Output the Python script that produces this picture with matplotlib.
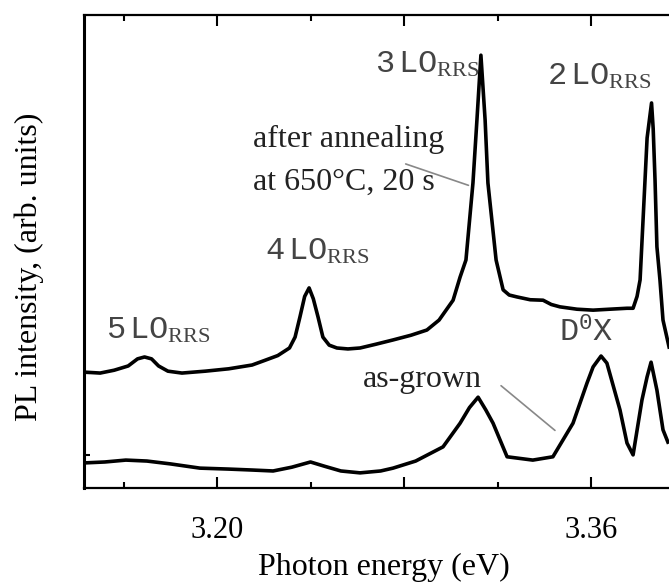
import matplotlib
matplotlib.use("Agg")
import matplotlib.pyplot as plt

# ---- data ----
energy_annealed = [3.1431, 3.1500, 3.1560, 3.1620, 3.1660, 3.1690, 3.1720, 3.1750, 3.1790, 3.1850,
                   3.1950, 3.2050, 3.2150, 3.2200, 3.2260, 3.2310, 3.2334, 3.2355, 3.2375, 3.2394,
                   3.2412, 3.2432, 3.2453, 3.2480, 3.2513, 3.2560, 3.2612, 3.2680, 3.2753, 3.2830,
                   3.2898, 3.2950, 3.3010, 3.3040, 3.3065, 3.3095, 3.3112, 3.3129, 3.3147, 3.3159,
                   3.3194, 3.3224, 3.3250, 3.3283, 3.3340, 3.3395, 3.3430, 3.3467, 3.3540, 3.3609,
                   3.3680, 3.3754, 3.3780, 3.3797, 3.3810, 3.3831, 3.3840, 3.3859, 3.3866, 3.3874,
                   3.3882, 3.3895, 3.3908, 3.3934]
intensity_annealed = [24.5, 24.3, 24.9, 25.8, 27.3, 27.7, 27.3, 25.8, 24.7, 24.3,
                      24.7, 25.2, 26.0, 26.9, 28.0, 29.6, 31.9, 36.2, 40.5, 42.3,
                      40.0, 36.2, 31.9, 30.2, 29.6, 29.4, 29.6, 30.4, 31.3, 32.3,
                      33.4, 35.5, 39.7, 44.6, 48.2, 64.5, 77.8, 91.5, 77.8, 64.5,
                      48.2, 41.9, 40.8, 40.4, 39.8, 39.7, 38.8, 38.3, 37.8, 37.6,
                      37.8, 38.0, 38.0, 40.5, 44.0, 65.0, 74.0, 81.4, 76.0, 65.0,
                      51.0, 44.0, 35.5, 29.8]

energy_grown = [3.1431, 3.1520, 3.1610, 3.1700, 3.1800, 3.1927, 3.2050, 3.2150, 3.2240, 3.2320,
                3.2400, 3.2460, 3.2530, 3.2612, 3.2700, 3.2753, 3.2850, 3.2967, 3.3040, 3.3080,
                3.3117, 3.3150, 3.3181, 3.3241, 3.3351, 3.3437, 3.3523, 3.3583, 3.3609, 3.3643,
                3.3668, 3.3724, 3.3754, 3.3780, 3.3818, 3.3840, 3.3857, 3.3882, 3.3908, 3.3929]
intensity_grown = [5.3, 5.5, 5.9, 5.7, 5.1, 4.2, 4.0, 3.8, 3.6, 4.4,
                   5.5, 4.6, 3.6, 3.2, 3.6, 4.2, 5.7, 8.7, 13.7, 17.0,
                   19.2, 16.5, 13.7, 6.6, 5.9, 6.6, 13.7, 22.2, 25.6, 27.9,
                   26.4, 16.5, 9.5, 7.0, 18.6, 23.5, 26.6, 20.7, 12.3, 9.7]

major_ticks = [3.20, 3.28, 3.36]
major_labels = ["3.20", "", "3.36"]
minor_ticks = [3.16, 3.24, 3.32]
y_ticks = [24.3, 7.0]

peak_labels = [r"$\mathtt{3\,LO}_{\mathrm{RRS}}$", r"$\mathtt{2\,LO}_{\mathrm{RRS}}$",
               r"$\mathtt{4\,LO}_{\mathrm{RRS}}$", r"$\mathtt{5\,LO}_{\mathrm{RRS}}$",
               r"$\mathtt{D^0X}$"]
peak_label_x = [3.2898, 3.3634, 3.2428, 3.1748, 3.3579]
peak_label_y = [89.4, 86.9, 49.9, 33.2, 32.8]

plt.rcParams["font.family"] = ["Liberation Serif", "DejaVu Serif"]
plt.rcParams["mathtext.fontset"] = "custom"
plt.rcParams["mathtext.rm"] = "Liberation Serif"
plt.rcParams["mathtext.tt"] = "Liberation Mono"
plt.rcParams["mathtext.it"] = "Liberation Serif:italic"

W, H = 669, 583
fig = plt.figure(figsize=(W / 100, H / 100), dpi=100)
ax = fig.add_axes([84 / W, (H - 488) / H, (684.5 - 84) / W, 473 / H])

ax.plot(energy_annealed, intensity_annealed, color="black", lw=2.6)
ax.plot(energy_grown, intensity_grown, color="black", lw=2.6)

ax.set_xlim(3.1431, 3.40)
ax.set_ylim(0, 100)

ax.set_xticks(major_ticks)
ax.set_xticklabels(major_labels)
ax.set_xticks(minor_ticks, minor=True)
ax.set_yticks(y_ticks)
ax.set_yticklabels([])
ax.tick_params(axis="x", which="major", direction="in", length=8, width=1.5,
               top=True, labelsize=22, pad=20)
ax.tick_params(axis="x", which="minor", direction="in", length=4.5, width=1.5, top=True)
ax.tick_params(axis="y", direction="in", length=4, width=1.5)
for side in ["left", "bottom", "top", "right"]:
    ax.spines[side].set_linewidth(1.6)
ax.spines["left"].set_linewidth(2.2)

ax.set_xlabel("Photon energy (eV)", fontsize=23, labelpad=6)
ax.set_ylabel("PL intensity, (arb. units)", fontsize=23)
ax.yaxis.set_label_coords((44 - 84) / (684.5 - 84), 0.467)

for lab, x, y in zip(peak_labels, peak_label_x, peak_label_y):
    ax.text(x, y, lab, fontsize=23, ha="center", va="center", color="#444444")

ax.text(3.2154, 72.1, "after annealing", fontsize=23, ha="left", va="baseline", color="#222222")
ax.text(3.2154, 63.0, "at 650\u00b0C, 20 s", fontsize=23, ha="left", va="baseline", color="#222222")
ax.annotate("", xy=(3.3087, 63.8), xytext=(3.2796, 68.7),
            arrowprops=dict(arrowstyle="-", color="#888888", lw=1.2))

ax.text(3.2625, 21.4, "as-grown", fontsize=23, ha="left", va="baseline", color="#222222")
ax.annotate("", xy=(3.3455, 11.8), xytext=(3.3206, 22.0),
            arrowprops=dict(arrowstyle="-", color="#888888", lw=1.2))

fig.savefig("out.png", dpi=100)
